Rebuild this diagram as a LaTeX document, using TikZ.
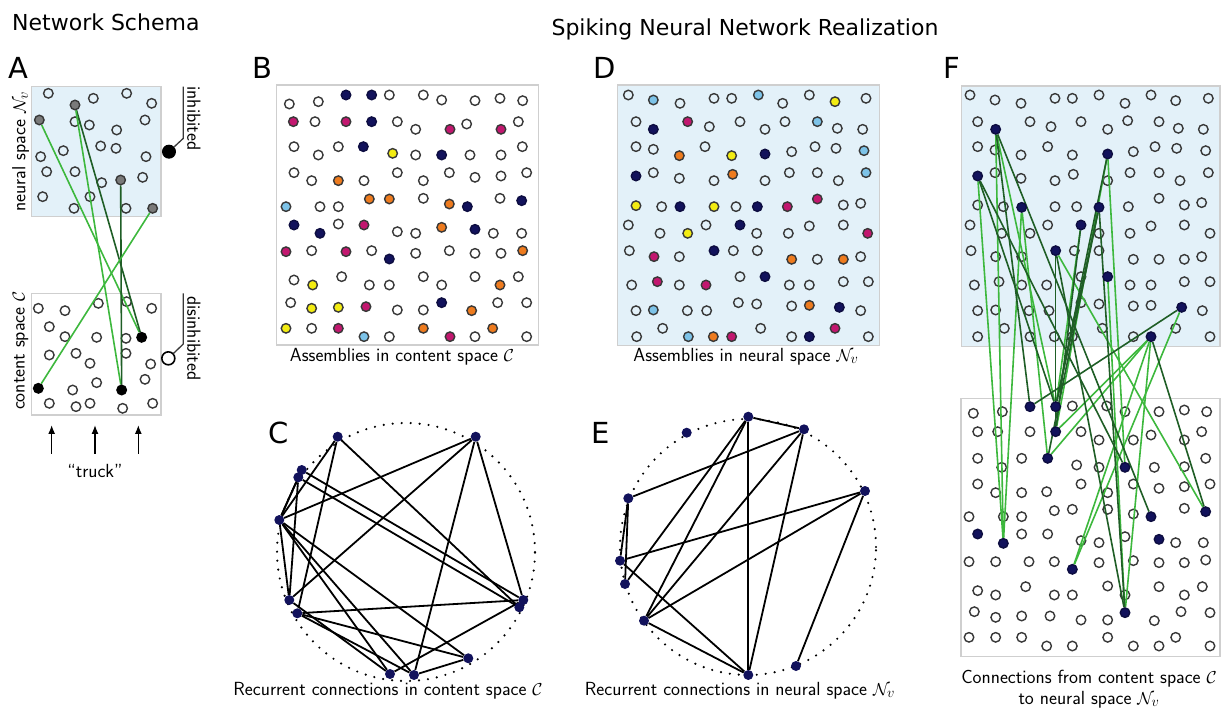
\documentclass[tikz,border=0pt]{standalone}
\usepackage{fontspec}
\newfontfamily\dejavu{DejaVu Sans}
\usetikzlibrary{arrows.meta}
\pgfdeclarelayer{bg}
\pgfdeclarelayer{edges}
\pgfsetlayers{bg,edges,main}
\definecolor{navy}{HTML}{12125C}
\definecolor{mag}{HTML}{C2176F}
\definecolor{yel}{HTML}{F3EC12}
\definecolor{ora}{HTML}{EE7B1E}
\definecolor{lblue}{HTML}{7DC3E8}
\definecolor{ring}{HTML}{383838}
\definecolor{boxfill}{HTML}{E3F1F9}
\definecolor{boxline}{HTML}{CFCFCF}
\definecolor{lgreen}{HTML}{3DB83D}
\definecolor{dgreen}{HTML}{1F5E26}
\definecolor{gnode}{HTML}{7A7A7A}
\tikzset{
  nd/.style={circle,inner sep=0pt,minimum size=9.5pt,line width=1.4pt,draw=ring},
  ko/.style={},
  kN/.style={fill=navy,draw=navy!70!black},
  kM/.style={fill=mag},
  kY/.style={fill=yel},
  kO/.style={fill=ora},
  kL/.style={fill=lblue},
  kG/.style={fill=gnode},
  kK/.style={fill=black,draw=black},
  wpanel/.style={draw=boxline,line width=1.3pt,fill=white},
  bpanel/.style={draw=boxline,line width=1.3pt,fill=boxfill},
  lg/.style={lgreen,line width=1.6pt},
  dg/.style={dgreen,line width=1.6pt},
  cedge/.style={black,line width=1.8pt},
  cnode/.style={circle,inner sep=0pt,minimum size=10pt,fill=navy},
  ring dots/.style={line width=2.4pt,dash pattern=on 0pt off 9pt,line cap=round},
  captxt/.style={font=\sffamily\fontsize{19}{21}\selectfont,inner sep=0pt,anchor=base},
  lett/.style={font=\dejavu\fontsize{29}{32}\selectfont,inner sep=0pt,anchor=base west},
  ttl/.style={font=\dejavu\fontsize{22}{26}\selectfont,inner sep=0pt},
  brk/.style={line width=1.3pt,ring},
  arr/.style={line width=1.3pt,-{Latex[length=9pt,width=7pt]}}
}
\begin{document}
\begin{tikzpicture}[x=1pt,y=-1pt]
\useasboundingbox (0,0) rectangle (1223,709);
% titles
\node[ttl,anchor=base west] (t1) at (12,31) {Network Schema};
\node[ttl,anchor=base] (t2) at (745,36) {Spiking Neural Network Realization};
\node[lett] (LA) at (8,78) {A};
\node[lett] (LB) at (252,78) {B};
\node[lett] (LD) at (593,78) {D};
\node[lett] (LF) at (943,78) {F};
\node[lett] (LC) at (268,443) {C};
\node[lett] (LE) at (591,443) {E};

% ---------------- Panel A
\begin{scope}[shift={(0,60)},scale=1/3]
 \begin{pgfonlayer}{bg}
  \filldraw[bpanel] (95,80) rectangle (483,470);
  \filldraw[wpanel] (95,700) rectangle (483,1065);
  \foreach \x/\y [count=\i] in {145/100,280/115,380/100,455/130,225/185,268/195,350/210,435/180,190/272,302/258,348/265,122/290,140/335,225/335,305/368,428/352,438/290,128/410,270/410,222/445,378/445,
   115/745,195/752,295/730,380/725,455/745,148/800,195/830,290/832,378/835,148/885,228/880,270/910,378/880,452/912,218/990,290/968,435/958,148/1030,228/1040,270/1030,368/1045,458/1030}
   \node[nd] (A\i) at (\x,\y) {};
 \end{pgfonlayer}
 \node[nd,kG] (a1) at (225,135) {};
 \node[nd,kG] (a2) at (118,180) {};
 \node[nd,kG] (a3) at (362,360) {};
 \node[nd,kG] (a4) at (458,445) {};
 \node[nd,kK] (b1) at (425,832) {};
 \node[nd,kK] (b2) at (115,985) {};
 \node[nd,kK] (b3) at (365,990) {};
 \node[circle,inner sep=0pt,minimum size=14pt,fill=black] (inh) at (507,275) {};
 \node[circle,inner sep=0pt,minimum size=13pt,draw=black,line width=1.6pt,fill=white] (dis) at (505,895) {};
 \coordinate (ik) at (550,235); \coordinate (it) at (550,80);
 \coordinate (dk) at (550,852); \coordinate (dt) at (550,700);
 \draw[brk] (inh) -- (ik) -- (it);
 \draw[brk] (dis) -- (dk) -- (dt);
 \node[captxt,anchor=center,rotate=-90] (tinh) at (582,175) {inhibited};
 \node[captxt,anchor=center,rotate=-90] (tdis) at (582,835) {disinhibited};
 \node[captxt,anchor=center,rotate=90] (tns) at (62,275) {neural space $\mathcal{N}_v$};
 \node[captxt,anchor=center,rotate=90] (tcs) at (62,872) {content space $\mathcal{C}$};
 \foreach \x [count=\i] in {155,285,415}{
   \coordinate (ar\i) at (\x,1182);
   \coordinate (at\i) at (\x,1095);
   \draw[arr] (ar\i) -- (at\i);}
 \node[captxt,anchor=center] (truck) at (285,1232) {``truck''};
\end{scope}
\begin{pgfonlayer}{edges}
 \draw[lg] (a2) -- (b1);
 \draw[dg] (a1) -- (b1);
 \draw[lg] (a1) -- (b3);
 \draw[dg] (a3) -- (b3);
 \draw[lg] (b2) -- (a4);
\end{pgfonlayer}

% ---------------- Panel B
\begin{scope}[shift={(270,80)},scale=1/3]
 \filldraw[wpanel] (20,15) rectangle (805,795);
 \foreach \x/\y/\c [count=\i] in {
 58/72/o,145/65/o,228/45/N,305/45/N,358/45/o,460/45/o,515/60/o,615/62/o,690/55/o,758/62/o,
 70/125/M,135/125/o,228/125/M,305/125/N,382/125/o,437/148/o,540/148/M,590/132/o,693/148/M,745/125/o,
 72/200/o,145/225/o,205/200/o,280/200/N,368/220/Y,437/225/o,515/225/N,600/225/o,693/225/o,757/200/o,
 72/278/o,125/302/o,205/302/O,282/302/o,382/278/o,460/302/o,538/278/o,615/292/o,693/288/o,770/278/o,
 48/380/L,150/380/o,205/380/o,298/357/O,358/357/O,460/355/o,538/372/O,592/380/N,690/355/o,755/362/N,
 72/435/N,150/460/N,205/432/o,282/435/M,382/455/o,437/460/o,515/442/O,615/448/N,670/460/o,755/460/o,
 48/515/M,125/512/o,228/515/M,305/512/o,358/537/N,437/520/o,538/512/o,615/520/o,693/520/o,758/512/O,
 72/600/o,128/615/Y,215/590/o,298/615/o,358/615/o,460/590/o,515/615/o,615/590/o,690/615/O,745/590/o,
 62/668/o,125/685/Y,205/682/Y,288/680/M,382/690/o,460/690/o,515/668/N,605/692/O,683/668/o,770/668/o,
 48/745/Y,125/745/o,205/745/M,282/770/L,358/770/o,460/745/O,540/770/M,615/770/o,668/745/O,770/770/o}
  \node[nd,k\c] (B\i) at (\x,\y) {};
\end{scope}
\node[captxt] (capB) at (402,361) {Assemblies in content space $\mathcal{C}$};

% ---------------- Panel D
\begin{scope}[shift={(610,80)},scale=1/3]
 \filldraw[bpanel] (22,15) rectangle (808,797);
 \foreach \x/\y/\c [count=\i] in {
 55/45/o,130/60/L,210/70/o,312/55/o,365/55/o,445/45/L,518/70/o,598/45/o,675/65/Y,768/55/o,
 78/125/o,130/148/N,233/125/M,298/140/o,390/125/o,465/148/o,525/125/o,622/125/L,682/145/o,758/148/o,
 78/200/o,130/208/o,208/227/O,285/200/o,365/227/Y,465/222/N,545/215/o,615/200/o,678/205/o,762/212/L,
 78/288/N,130/278/o,208/295/o,312/302/o,368/283/O,465/302/o,538/278/o,622/278/o,685/302/o,768/278/L,
 78/377/Y,155/380/o,210/380/N,312/380/Y,378/380/o,442/380/N,532/380/M,622/357/M,700/375/o,752/370/o,
 55/435/o,150/460/o,233/460/Y,288/435/o,390/435/N,440/460/o,535/460/o,598/438/o,700/435/o,773/460/M,
 58/512/o,132/530/M,208/530/o,312/512/N,370/512/o,442/512/o,545/538/O,622/538/o,700/538/O,752/530/o,
 65/615/o,142/605/M,208/615/o,288/615/M,390/590/o,465/590/N,538/615/o,598/615/o,700/605/o,775/605/o,
 78/692/o,130/690/L,232/692/o,290/692/o,385/668/o,440/672/o,545/678/o,598/676/O,688/682/N,752/692/o,
 80/770/o,158/745/o,235/770/L,310/770/O,365/770/M,452/745/o,545/770/o,598/770/N,675/745/M,775/770/o}
  \node[nd,k\c] (D\i) at (\x,\y) {};
\end{scope}
\node[captxt] (capD) at (746,361) {Assemblies in neural space $\mathcal{N}_v$};

% ---------------- Panel C
\node[inner sep=0pt] (cc) at (406,552) {};
\draw[ring dots] (cc.center) circle[radius=129pt];
\foreach \n/\x/\y in {c1/337.7/436.7,c2/475.7/436.7,c3/301.7/470,c4/298.3/477.3,c5/279.3/520,c6/289.3/600,c7/297.3/613.3,c8/523.3/600,c9/519.3/607.3,c10/468.3/658.3,c11/390/674,c12/414/675}
  \node[cnode] (\n) at (\x,\y) {};
\begin{pgfonlayer}{edges}
\foreach \a/\b in {c1/c5,c1/c7,c1/c9,c2/c5,c2/c6,c2/c12,c2/c8,c3/c8,c4/c9,c3/c5,c4/c5,c5/c6,c5/c10,c5/c12,c5/c11,c6/c11,c7/c8,c7/c10,c7/c12,c8/c11,c10/c12,c4/c6}
  \draw[cedge] (\a) -- (\b);
\end{pgfonlayer}
\node[captxt] (capC) at (388,695) {Recurrent connections in content space $\mathcal{C}$};

% ---------------- Panel E
\node[inner sep=0pt] (ec) at (748,547) {};
\draw[ring dots] (ec.center) circle[radius=128pt];
\foreach \n/\x/\y in {e1/748.3/416.7,e2/804/429.3,e3/686.7/432.7,e4/865/491,e5/628.3/498.3,e6/620/560.7,e7/625/584,e8/644/620.7,e9/748.3/675,e10/796/666}
  \node[cnode] (\n) at (\x,\y) {};
\begin{pgfonlayer}{edges}
\foreach \a/\b in {e1/e2,e1/e9,e1/e7,e1/e8,e2/e5,e2/e8,e2/e9,e4/e6,e4/e8,e4/e10,e5/e7,e5/e6,e6/e9,e8/e9}
  \draw[cedge] (\a) -- (\b);
\end{pgfonlayer}
\node[captxt] (capE) at (740,695) {Recurrent connections in neural space $\mathcal{N}_v$};

% ---------------- Panel F top
\begin{scope}[shift={(955,80)},scale=1/3]
 \begin{pgfonlayer}{bg}
 \filldraw[bpanel] (20,18) rectangle (795,800);
 \foreach \x/\y [count=\i] in {
 45/45,120/60,198/70,300/55,352/55,432/45,510/70,588/45,662/62,760/55,
 68/125,225/125,288/140,378/125,458/148,518/122,612/125,670/145,745/148,
 68/200,120/210,198/225,278/200,352/225,535/215,600/200,665/205,752/212,
 120/278,198/295,300/302,355/283,458/302,525/278,612/278,675/302,760/278,
 68/375,145/380,300/380,365/380,520/380,612/355,688/375,740/368,
 45/435,140/460,225/460,278/435,432/460,525/460,588/438,688/435,765/460,
 48/512,122/530,200/530,358/512,432/512,535/538,612/538,688/538,740/530,
 58/615,132/605,200/615,275/615,378/590,525/615,588/615,688/605,765/605,
 68/692,122/690,222/692,282/692,378/668,432/672,535/678,588/676,742/692,
 68/770,148/745,225/770,298/770,352/770,442/745,535/770,662/745,765/770}
  \node[nd] (FT\i) at (\x,\y) {};
 \end{pgfonlayer}
 \foreach \n/\x/\y in {U1/122/148,U2/458/222,U3/68/288,U4/200/382,U5/432/382,U6/378/435,U7/302/512,U8/458/590,U9/680/682,U10/588/770}
  \node[nd,kN] (\n) at (\x,\y) {};
\end{scope}

% ---------------- Panel F bottom
\begin{scope}[shift={(955,380)},scale=1/3]
 \begin{pgfonlayer}{bg}
 \filldraw[wpanel] (18,55) rectangle (795,830);
 \foreach \x/\y [count=\i] in {
 55/100,142/95,352/78,455/78,510/95,612/95,688/90,755/95,
 68/155,128/155,225/155,378/155,432/180,535/180,588/165,688/180,740/155,
 68/235,140/262,200/235,365/255,432/262,598/262,688/260,752/235,
 68/312,122/338,200/338,275/335,378/312,458/338,535/312,612/325,688/320,765/312,
 42/410,145/410,200/410,298/392,352/388,458/388,535/402,688/385,
 200/462,278/462,378/482,432/488,510/470,662/488,745/488,
 42/545,122/545,222/545,298/545,432/548,535/542,612/548,688/548,752/540,
 68/632,122/645,212/620,298/645,352/645,458/618,510/645,612/620,688/645,742/620,
 58/695,122/712,200/708,285/708,378/720,458/720,598/722,678/695,765/698,
 42/772,122/772,200/772,275/798,352/798,458/772,535/798,612/798,662/772,765/798}
  \node[nd] (FB\i) at (\x,\y) {};
 \end{pgfonlayer}
 \foreach \n/\x/\y in {L1/225/80,L2/302/80,L3/302/155,L4/278/235,L5/510/262,L6/588/410,L7/752/395,L8/68/462,L9/145/490,L10/612/478,L11/352/568,L12/510/698}
  \node[nd,kN] (\n) at (\x,\y) {};
\end{scope}
\begin{pgfonlayer}{edges}
\foreach \a/\b in {U3/L9,U1/L9,U1/L2,U4/L9,U4/L4,U2/L3,U6/L2,U7/L7,U8/L12,U9/L11,U10/L4,U10/L12,U10/L11,U10/L3,U2/L5}
  \draw[lg] (\a) -- (\b);
\foreach \a/\b in {U3/L5,U1/L6,U1/L1,U3/L2,U2/L2,U5/L2,U5/L4,U6/L3,U7/L3,U9/L1,U10/L7,U5/L12,U7/L12}
  \draw[dg] (\a) -- (\b);
\end{pgfonlayer}
\node[captxt] (capF1) at (1089,683) {Connections from content space $\mathcal{C}$};
\node[captxt] (capF2) at (1089,704) {to neural space $\mathcal{N}_v$};
\end{tikzpicture}
\end{document}
